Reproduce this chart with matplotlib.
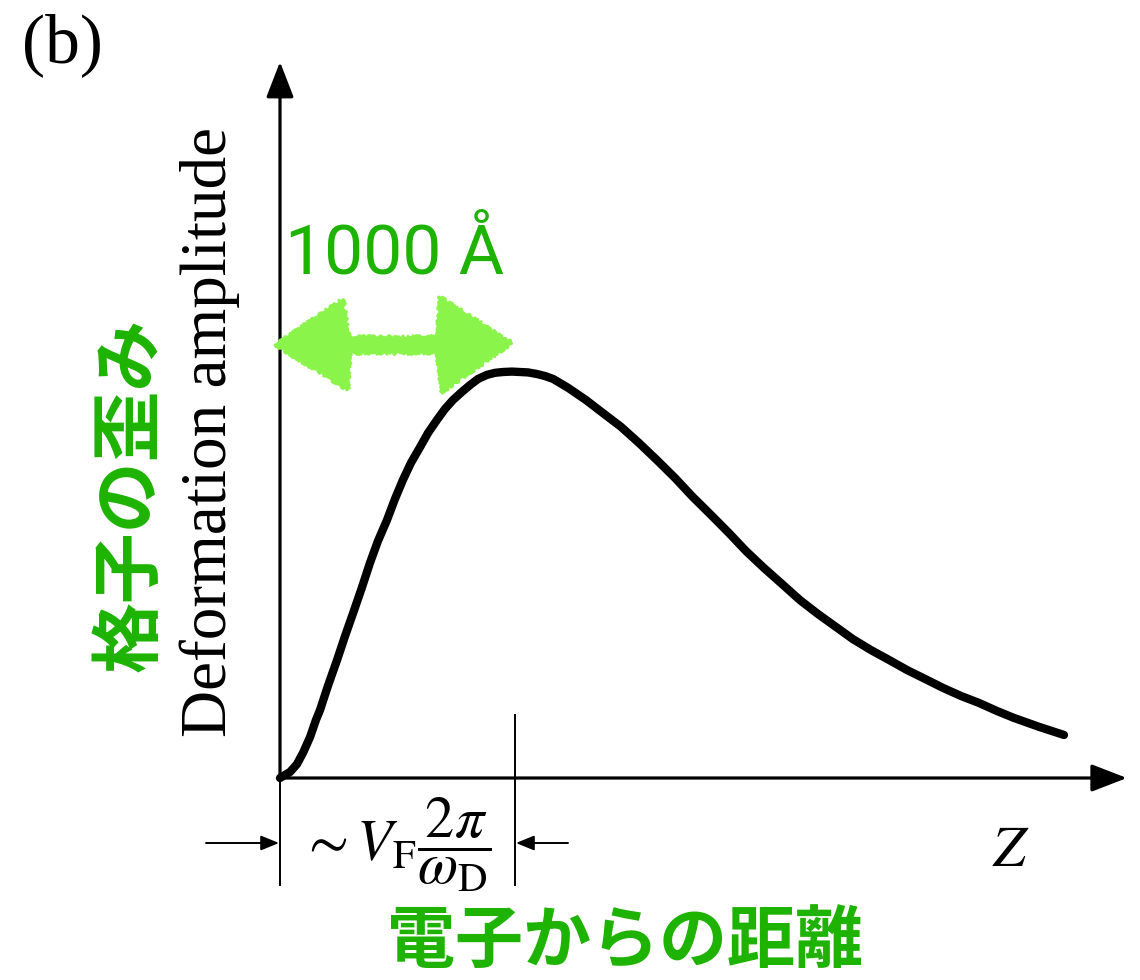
import matplotlib
matplotlib.use("Agg")
import matplotlib.pyplot as plt
from matplotlib.patches import FancyArrowPatch, Polygon

plt.rcParams["mathtext.fontset"] = "stix"

# Distance from the electron (in units of V_F * 2*pi / omega_D) and the
# lattice deformation amplitude (normalised to the peak)
z = [0.000, 0.043, 0.072, 0.098, 0.128, 0.153, 0.170, 0.204, 0.243, 0.277,
     0.311, 0.349, 0.383, 0.417, 0.455, 0.489, 0.523, 0.557, 0.596, 0.630,
     0.668, 0.702, 0.736, 0.774, 0.809, 0.843, 0.881, 0.915, 0.949, 0.987,
     1.021, 1.055, 1.094, 1.128, 1.162, 1.226, 1.302, 1.374, 1.451, 1.528,
     1.604, 1.681, 1.757, 1.834, 1.911, 1.983, 2.060, 2.136, 2.213, 2.289,
     2.366, 2.438, 2.515, 2.591, 2.668, 2.745, 2.821, 2.898, 2.974, 3.051,
     3.123, 3.230, 3.336]
amplitude = [0.000, 0.015, 0.034, 0.062, 0.101, 0.143, 0.167, 0.227, 0.291,
             0.350, 0.406, 0.470, 0.530, 0.584, 0.635, 0.687, 0.734, 0.776,
             0.815, 0.850, 0.882, 0.909, 0.931, 0.951, 0.968, 0.983, 0.993,
             0.998, 1.000, 1.001, 1.000, 0.999, 0.995, 0.990, 0.983, 0.961,
             0.931, 0.899, 0.865, 0.825, 0.783, 0.739, 0.692, 0.648, 0.603,
             0.559, 0.517, 0.478, 0.438, 0.404, 0.372, 0.342, 0.315, 0.291,
             0.266, 0.244, 0.222, 0.202, 0.185, 0.165, 0.148, 0.126, 0.106]

peak_z = 1.0          # V_F 2pi/omega_D marker
z_axis_end = 3.604
amp_axis_end = 1.764

GREEN = "#1DB300"
LIGHT_GREEN = "#8BF44A"

W, H = 1140, 980
fig = plt.figure(figsize=(W / 100, H / 100), dpi=100)
# one data unit along z = 235 px, along amplitude = 406 px; origin at (280, 778)
ax = fig.add_axes([0, 0, 1, 1])
ax.set_xlim(-280 / 235, (W - 280) / 235)
ax.set_ylim(-(H - 778) / 406, 778 / 406)
ax.axis("off")


def px(x, y):
    """pixel position (from top-left) -> figure fraction"""
    return (x / W, 1 - y / H)


def zpx(x):
    return (x - 280) / 235


def apx(y):
    return (778 - y) / 406


# axes with arrow heads
for start, end in [((0, 0), (z_axis_end, 0)), ((0, 0), (0, amp_axis_end))]:
    ax.add_patch(FancyArrowPatch(start, end, arrowstyle="-|>,head_length=22,head_width=8.5",
                                 mutation_scale=1, lw=2.3, color="black",
                                 shrinkA=0, shrinkB=0, zorder=3))

# deformation curve
ax.plot(z, amplitude, color="black", lw=6.0, solid_capstyle="round",
        solid_joinstyle="round", zorder=4)

# marker lines for the characteristic length
ax.plot([0, 0], [0, apx(885)], color="black", lw=1.4)
ax.plot([peak_z, peak_z], [apx(715), apx(885)], color="black", lw=1.4)
ya = apx(843)
ax.add_patch(FancyArrowPatch((zpx(206), ya), (zpx(279), ya),
                             arrowstyle="-|>,head_length=11,head_width=4.5",
                             mutation_scale=1, lw=1.4, color="black",
                             shrinkA=0, shrinkB=0))
ax.add_patch(FancyArrowPatch((zpx(568), ya), (zpx(516), ya),
                             arrowstyle="-|>,head_length=11,head_width=4.5",
                             mutation_scale=1, lw=1.4, color="black",
                             shrinkA=0, shrinkB=0))

fig.text(*px(396, 845), r"$\sim V_{\rm F}\dfrac{2\pi}{\omega_{\rm D}}$",
         fontsize=42, ha="center", va="center")
fig.text(*px(1011, 850), r"$Z$", fontsize=42, ha="center", va="center")

# panel label
fig.text(*px(22, 45), "(b)", fontsize=50, family="Liberation Serif",
         ha="left", va="center")

# axis labels
fig.text(*px(210, 432), "Deformation amplitude", fontsize=47,
         family="Liberation Serif", rotation=90, ha="center", va="center")
fig.text(*px(130, 495), "格子の歪み", fontsize=51, color=GREEN,
         family=["Noto Sans CJK JP", "DejaVu Sans"], fontweight="bold",
         rotation=90, ha="center", va="center")
fig.text(*px(625, 942), "電子からの距離", fontsize=49, color=GREEN,
         family=["Noto Sans CJK JP", "DejaVu Sans"], fontweight="bold",
         ha="center", va="center")

# crayon double arrow spanning ~1000 Å
arrow_px = [(275, 345), (343, 299), (349, 337), (437, 337), (440, 297),
            (512, 343), (442, 392), (437, 353), (350, 353), (348, 390)]
arrow = Polygon([(zpx(x), apx(y)) for x, y in arrow_px], closed=True,
                facecolor=LIGHT_GREEN, edgecolor=LIGHT_GREEN, lw=2,
                joinstyle="round", zorder=5)
arrow.set_sketch_params(scale=1.5, length=4, randomness=8)
ax.add_patch(arrow)
fig.text(*px(395, 254), "1000 Å", fontsize=50, color=GREEN,
         family="Roboto", fontweight="normal", ha="center", va="center")

fig.savefig("out.png", dpi=100)
